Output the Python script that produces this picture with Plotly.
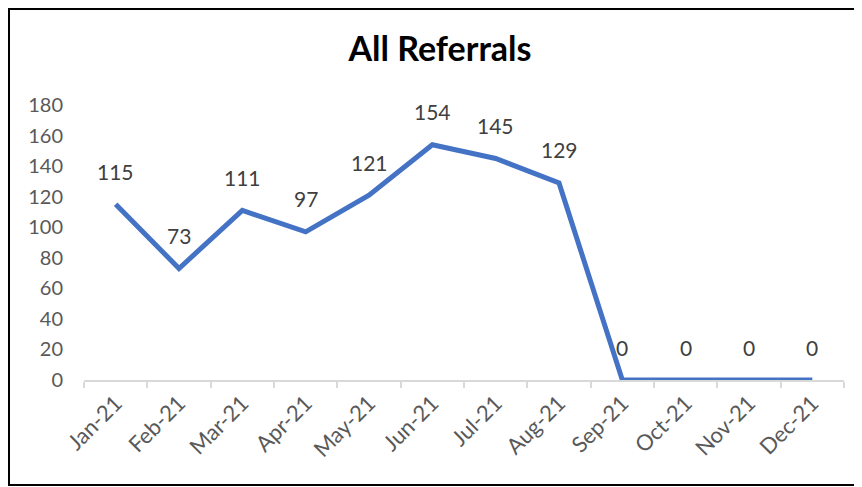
import plotly.graph_objects as go

months = ["Jan-21", "Feb-21", "Mar-21", "Apr-21", "May-21", "Jun-21",
          "Jul-21", "Aug-21", "Sep-21", "Oct-21", "Nov-21", "Dec-21"]
referrals = [115, 73, 111, 97, 121, 154, 145, 129, 0, 0, 0, 0]
y_ticks = [0, 20, 40, 60, 80, 100, 120, 140, 160, 180]

# the page body has an 8px margin, so figure coordinates are offset by 8px
W, H = 862, 487
ml, mr, mt, mb = 76, 26, 97, 115
FONT = "Lato"
GRAY = "#595959"

fig = go.Figure()
fig.add_trace(go.Scatter(
    x=months, y=referrals, mode="lines",
    line=dict(color="#4472C4", width=5),
    hoverinfo="skip", showlegend=False,
))

for m, v in zip(months, referrals):
    fig.add_annotation(x=m, y=v, text=str(v), showarrow=False,
                       yshift=33, font=dict(family=FONT, size=21, color="#404040"))

pw = W - ml - mr
ph = H - mt - mb
fig.add_shape(type="rect", xref="paper", yref="paper",
              x0=(1 - ml) / pw, x1=(880 - ml) / pw,
              y0=(H - 477 - mb) / ph, y1=(H - 1 - mb) / ph,
              line=dict(color="black", width=2), fillcolor="rgba(0,0,0,0)",
              layer="below")

fig.update_layout(
    width=W, height=H,
    margin=dict(l=ml, r=mr, t=mt, b=mb, autoexpand=False),
    paper_bgcolor="white", plot_bgcolor="white",
    title=dict(text="<b>All Referrals</b>", x=432 / W, xanchor="center",
               y=1 - 41 / H, yanchor="middle",
               font=dict(family=FONT, size=34, color="black")),
    xaxis=dict(
        type="category", showgrid=False, showline=True, linecolor="#D9D9D9",
        linewidth=1.5, ticks="outside", tickson="boundaries", ticklen=6,
        tickcolor="#D9D9D9", tickwidth=1.5, tickangle=-45, automargin=False,
        tickfont=dict(family=FONT, size=22, color=GRAY),
        range=[-0.5, 11.5], zeroline=False, fixedrange=True,
    ),
    yaxis=dict(
        range=[0, 180], tickvals=y_ticks, showgrid=False, showline=False,
        zeroline=False, ticks="", ticklabelstandoff=20, automargin=False,
        tickfont=dict(family=FONT, size=20, color=GRAY), fixedrange=True,
    ),
)

fig.write_html("out.html")
